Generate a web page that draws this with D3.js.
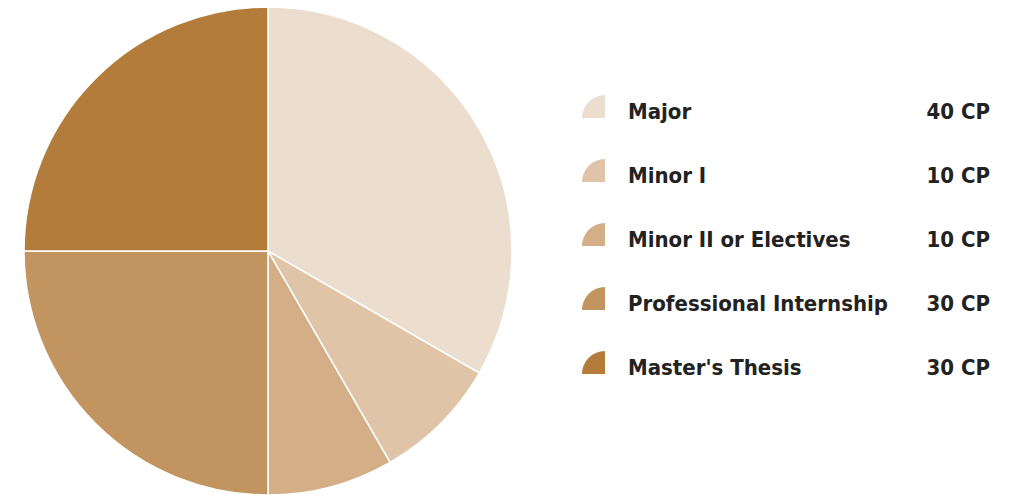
<!DOCTYPE html>
<html>
<head>
<meta charset="utf-8">
<script src="https://cdn.jsdelivr.net/npm/d3@7"></script>
<style>
  body { margin: 0; background: #fff; }
  text { font-family: "DejaVu Sans Condensed", "DejaVu Sans", sans-serif; font-weight: bold; fill: #222; }
</style>
</head>
<body>
<svg width="1009" height="495"></svg>
<script>
// modules and credit points
var modules = ["Major", "Minor I", "Minor II or Electives", "Professional Internship", "Master's Thesis"];
var credits = [40, 10, 10, 30, 30];
var colors = ["#ecdece", "#dfc4a8", "#d3ae86", "#c29560", "#b37c3b"];

var width = 1009;
var height = 495;
var cx = 268, cy = 251, radius = 244;

var svg = d3.select('svg');

var pie = d3.pie()
  .sort(null)
  .value(d => d);

var arc = d3.arc()
  .innerRadius(0)
  .outerRadius(radius);

var g = svg.append('g')
  .attr('transform', 'translate(' + cx + ',' + cy + ')');

g.selectAll('path')
  .data(pie(credits))
  .enter()
  .append('path')
    .attr('d', arc)
    .style('fill', (d, i) => colors[i])
    .style('stroke', '#fff')
    .style('stroke-width', 1.5);

// legend
var rowScale = d3.scalePoint()
  .domain(modules)
  .range([119, 375]);

var iconArc = d3.arc()
  .innerRadius(0)
  .outerRadius(23)
  .startAngle(-Math.PI / 2)
  .endAngle(0);

var legend = svg.selectAll('.legend')
  .data(modules)
  .enter()
  .append('g')
    .attr('class', 'legend')
    .attr('transform', d => 'translate(0,' + rowScale(d) + ')');

legend.append('path')
  .attr('d', iconArc)
  .attr('transform', 'translate(605,-1)')
  .style('fill', (d, i) => colors[i]);

legend.append('text')
  .attr('x', 628)
  .attr('y', 0)
  .style('font-size', '22px')
  .text(d => d);

legend.append('text')
  .attr('x', 990)
  .attr('y', 0)
  .attr('text-anchor', 'end')
  .style('font-size', '22px')
  .text((d, i) => credits[i] + ' CP');
</script>
</body>
</html>
